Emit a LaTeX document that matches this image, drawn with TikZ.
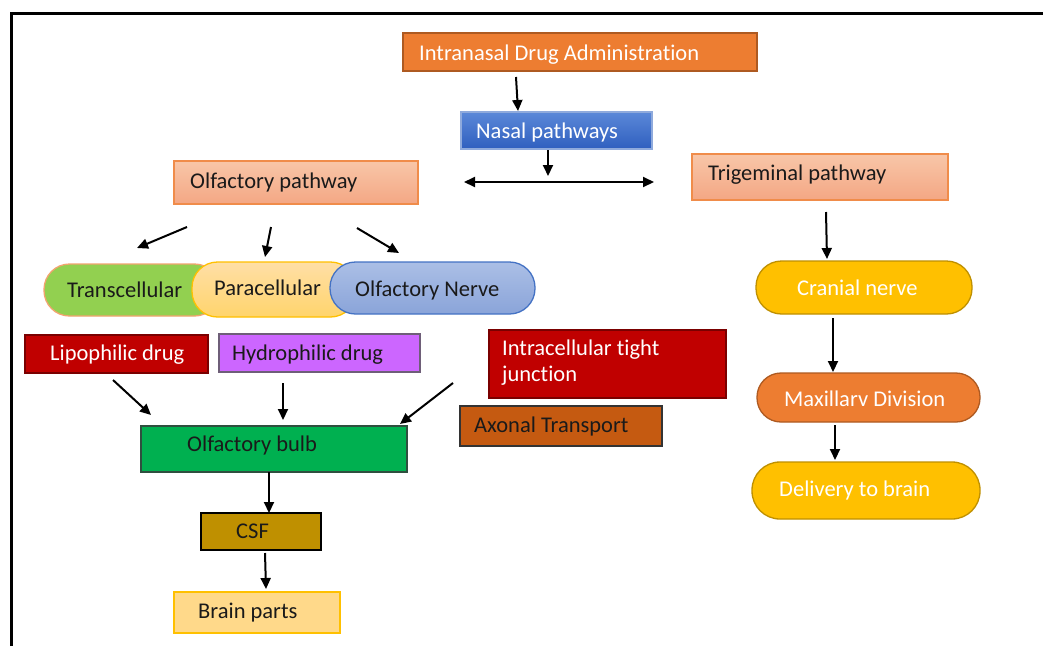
\documentclass[tikz,border=0pt]{standalone}
\usepackage{fontspec}
\setmainfont{Carlito}[Ligatures={NoCommon}]
\usetikzlibrary{fit,arrows.meta}
\definecolor{corange}{HTML}{ED7D31}
\definecolor{corangeD}{HTML}{AE5A21}
\definecolor{cblueT}{HTML}{5B88D8}
\definecolor{cblueB}{HTML}{2F5FBF}
\definecolor{cblueL}{HTML}{8FAADC}
\definecolor{csalT}{HTML}{F8C6A8}
\definecolor{csalB}{HTML}{F4A784}
\definecolor{csalD}{HTML}{F08C4A}
\definecolor{cgreenL}{HTML}{92D050}
\definecolor{cparaT}{HTML}{FFDFA6}
\definecolor{cparaB}{HTML}{FFD46C}
\definecolor{cgold}{HTML}{FFC000}
\definecolor{cgoldD}{HTML}{BF9000}
\definecolor{cnerveT}{HTML}{ABBFE6}
\definecolor{cnerveB}{HTML}{8AA4D9}
\definecolor{cnerveD}{HTML}{4472C4}
\definecolor{cred}{HTML}{C00000}
\definecolor{credD}{HTML}{7A0000}
\definecolor{cviolet}{HTML}{CC66FF}
\definecolor{cvioletD}{HTML}{6E5E78}
\definecolor{crust}{HTML}{C55A11}
\definecolor{cgreen}{HTML}{00B050}
\definecolor{cgreenD}{HTML}{2F4F3F}
\definecolor{cbrain}{HTML}{FFD98A}
\definecolor{ctext}{HTML}{1A1A1A}
\tikzset{
  box/.style={rectangle, inner sep=0pt, line width=1.3pt},
  pill/.style={rectangle, inner sep=0pt, line width=1.3pt, rounded corners=25.5pt},
  txt/.style={inner sep=0pt, anchor=base west, text=ctext},
  wtxt/.style={inner sep=0pt, anchor=base west, text=white},
  arr/.style={line width=2pt, -{Triangle[length=11pt,width=10pt]}},
  every node/.style={font=\fontsize{22.5}{26}\selectfont}
}
\begin{document}
\begin{tikzpicture}[x=1pt,y=-1pt]
\useasboundingbox (0,0) rectangle (1043,646);
\fill[white] (0,0) rectangle (1043,646);
% frame
\draw[line width=3pt] (11.5,646) -- (11.5,13.5) -- (1043,13.5);

% top
\node[box, fill=corange, draw=corangeD, fit={(403,33) (757,71)}] (ida) {};
\node[wtxt] (ida-t) at (419,60) {Intranasal Drug Administration};
\node[box, top color=cblueT, bottom color=cblueB, draw=cblueL, fit={(461,112) (652,149)}] (nas) {};
\node[wtxt] (nas-t) at (476,138) {Nasal pathways};
\node[box, top color=csalT, bottom color=csalB, draw=csalD, fit={(174,161) (418,204)}] (olf) {};
\node[txt] (olf-t) at (190,188) {Olfactory pathway};
\node[box, top color=csalT, bottom color=csalB, draw=csalD, fit={(692,154) (948,200)}] (tri) {};
\node[txt] (tri-t) at (708,180) {Trigeminal pathway};

% pills left
\node[pill, fill=cgreenL, draw=corange!70, fit={(44,264) (220,316)}] (tc) {};
\node[txt] (tc-t) at (67,297) {Transcellular};
\node[pill, top color=cparaT, bottom color=cparaB, draw=cgold, fit={(192,262) (356,317)}] (pc) {};
\node[txt] (pc-t) at (214,295) {Paracellular};
\node[pill, top color=cnerveT, bottom color=cnerveB, draw=cnerveD, fit={(330,262) (535,314)}] (on) {};
\node[txt] (on-t) at (355,296) {Olfactory Nerve};

% right column
\node[pill, fill=cgold, draw=cgoldD, fit={(756,261) (972,314)}] (cn) {};
\node[wtxt] (cn-t) at (797,295) {Cranial nerve};
\node[pill, rounded corners=24pt, fill=corange, draw=corangeD, fit={(757,373) (980,422)}] (mx) {};
\node[wtxt] (mx-t) at (784,406) {Maxillarv Division};
\node[pill, rounded corners=28pt, fill=cgold, draw=cgoldD, fit={(752,462) (980,519)}] (dl) {};
\node[wtxt] (dl-t) at (779,496) {Delivery to brain};

% drug boxes
\node[box, fill=cred, draw=credD, fit={(25,335) (208,373)}] (lip) {};
\node[wtxt] (lip-t) at (50,360) {Lipophilic drug};
\node[box, fill=cviolet, draw=cvioletD, fit={(219,334) (420,372)}] (hyd) {};
\node[txt] (hyd-t) at (232,360) {Hydrophilic drug};
\node[box, fill=cred, draw=credD, fit={(489,330) (726,398)}] (itj) {};
\node[wtxt, anchor=west, align=left] (itj-t) at (502,363) {Intracellular tight\\junction};
\node[box, fill=crust, draw=black!80, fit={(460,406) (662,446)}] (ax) {};
\node[txt] (ax-t) at (474,432) {Axonal Transport};

% lower chain
\node[box, fill=cgreen, draw=cgreenD, fit={(141,426) (407,472)}] (ob) {};
\node[txt] (ob-t) at (187,451) {Olfactory bulb};
\node[box, fill=cgoldD, draw=black, fit={(201,513) (321,550)}] (csf) {};
\node[txt] (csf-t) at (236,538) {CSF};
\node[box, fill=cbrain, draw=cgold, fit={(174,592) (340,633)}] (bp) {};
\node[txt] (bp-t) at (198,618) {Brain parts};

% connector end points
\coordinate (a1s) at (516,77);   \coordinate (a1e) at (518,111);
\coordinate (a2s) at (548,150);  \coordinate (a2e) at (548,176);
\coordinate (dl1) at (464,182);  \coordinate (dl2) at (654,182);
\coordinate (t1s) at (826,212);  \coordinate (t1e) at (827,259);
\coordinate (o1s) at (187,227);  \coordinate (o1e) at (137,248);
\coordinate (o2s) at (271,227);  \coordinate (o2e) at (265,257);
\coordinate (o3s) at (357,228);  \coordinate (o3e) at (399,253);
\coordinate (c1s) at (833,318);  \coordinate (c1e) at (833,372);
\coordinate (c2s) at (835,425);  \coordinate (c2e) at (835,460);
\coordinate (l1s) at (113,380);  \coordinate (l1e) at (151,415);
\coordinate (h1s) at (283,383);  \coordinate (h1e) at (283,420);
\coordinate (i1s) at (453,383);  \coordinate (i1e) at (400,424);
\coordinate (b1s) at (269,472);  \coordinate (b1e) at (269,513);
\coordinate (s1s) at (265,553);  \coordinate (s1e) at (266,589);

\draw[arr] (a1s) -- (a1e);
\draw[arr] (a2s) -- (a2e);
\draw[line width=2pt, {Triangle[length=11pt,width=10pt]}-{Triangle[length=11pt,width=10pt]}] (dl1) -- (dl2);
\draw[arr] (t1s) -- (t1e);
\draw[arr] (o1s) -- (o1e);
\draw[arr] (o2s) -- (o2e);
\draw[arr] (o3s) -- (o3e);
\draw[arr] (c1s) -- (c1e);
\draw[arr] (c2s) -- (c2e);
\draw[arr] (l1s) -- (l1e);
\draw[arr] (h1s) -- (h1e);
\draw[arr] (i1s) -- (i1e);
\draw[arr] (b1s) -- (b1e);
\draw[arr] (s1s) -- (s1e);
\end{tikzpicture}
\end{document}
